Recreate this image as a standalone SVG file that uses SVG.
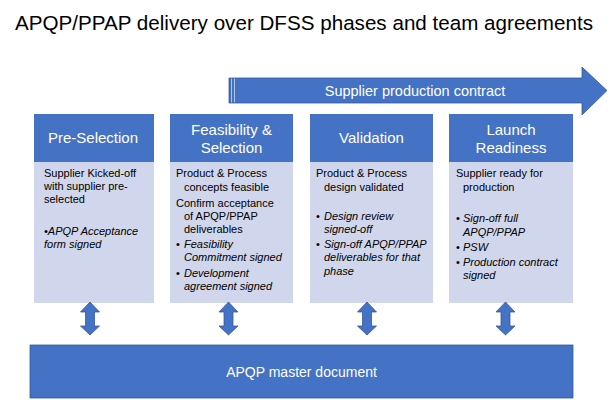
<svg xmlns="http://www.w3.org/2000/svg" width="616" height="400" viewBox="0 0 616 400">
<style>
text{font-family:"Liberation Sans",Arial,sans-serif}
.title{font-size:20.5px;fill:#000}
.hdr{fill:#4472C4}
.body{fill:#D0D6EB}
.ht{font-size:15px;fill:#fff;text-anchor:middle}
.bt{font-size:11px;fill:#000}
.it{font-style:italic}
.blue{fill:#4472C4;stroke:#2F5597;stroke-width:0.75}
.wt{fill:#fff;text-anchor:middle}
</style>
<rect width="616" height="400" fill="#fff"/>
<text class="title" x="15" y="30" textLength="578" lengthAdjust="spacingAndGlyphs">APQP/PPAP delivery over DFSS phases and team agreements</text>

<g id="contract-arrow">
<path class="blue" d="M229,78 L582,78 L582,67 L607,90.5 L582,115 L582,103 L229,103 Z"/>
<line x1="231.5" y1="78.5" x2="231.5" y2="102.5" stroke="#D0D8EE" stroke-width="0.8"/>
<line x1="234.5" y1="78.5" x2="234.5" y2="102.5" stroke="#D0D8EE" stroke-width="0.8"/>
<text class="wt" x="415" y="96" font-size="14.5">Supplier production contract</text>
</g>

<g id="pre-selection">
<rect class="hdr" x="34" y="114" width="120" height="48"/>
<rect class="body" x="34" y="162" width="120" height="141"/>
<text class="ht" x="93" y="143">Pre-Selection</text>
<text class="bt" x="44" y="177">Supplier Kicked-off</text>
<text class="bt" x="44" y="190">with supplier pre-</text>
<text class="bt" x="44" y="203">selected</text>
<text class="bt it" x="44" y="235">•APQP Acceptance</text>
<text class="bt it" x="44" y="248">form signed</text>
</g>

<g id="feasibility">
<rect class="hdr" x="170" y="114" width="123" height="48"/>
<rect class="body" x="170" y="162" width="123" height="141"/>
<text class="ht" x="231.5" y="135">Feasibility &amp;</text>
<text class="ht" x="231.5" y="153">Selection</text>
<text class="bt" x="176" y="177">Product &amp; Process</text>
<text class="bt" x="184" y="191">concepts feasible</text>
<text class="bt" x="176" y="207">Confirm acceptance</text>
<text class="bt" x="184" y="220">of APQP/PPAP</text>
<text class="bt" x="184" y="233">deliverables</text>
<text class="bt" x="176" y="248">•</text>
<text class="bt it" x="184" y="248">Feasibility</text>
<text class="bt it" x="184" y="261">Commitment signed</text>
<text class="bt" x="176" y="277">•</text>
<text class="bt it" x="184" y="277">Development</text>
<text class="bt it" x="184" y="290">agreement signed</text>
</g>

<g id="validation">
<rect class="hdr" x="310" y="114" width="123" height="48"/>
<rect class="body" x="310" y="162" width="123" height="141"/>
<text class="ht" x="371.5" y="143">Validation</text>
<text class="bt" x="316" y="177">Product &amp; Process</text>
<text class="bt" x="324" y="191">design validated</text>
<text class="bt" x="316" y="220">•</text>
<text class="bt it" x="324" y="220">Design review</text>
<text class="bt it" x="324" y="233">signed-off</text>
<text class="bt" x="316" y="248">•</text>
<text class="bt it" x="324" y="248">Sign-off APQP/PPAP</text>
<text class="bt it" x="324" y="261">deliverables for that</text>
<text class="bt it" x="324" y="275">phase</text>
</g>

<g id="launch">
<rect class="hdr" x="449" y="114" width="124" height="48"/>
<rect class="body" x="449" y="162" width="124" height="141"/>
<text class="ht" x="511" y="135">Launch</text>
<text class="ht" x="511" y="153">Readiness</text>
<text class="bt" x="456" y="177">Supplier ready for</text>
<text class="bt" x="463" y="191">production</text>
<text class="bt" x="456" y="222">•</text>
<text class="bt it" x="463" y="222">Sign-off full</text>
<text class="bt it" x="463" y="236">APQP/PPAP</text>
<text class="bt" x="456" y="251">•</text>
<text class="bt it" x="463" y="251">PSW</text>
<text class="bt" x="456" y="266">•</text>
<text class="bt it" x="463" y="266">Production contract</text>
<text class="bt it" x="463" y="279">signed</text>
</g>

<g id="master-document">
<rect class="blue" x="30" y="345" width="543" height="53"/>
<text class="wt" x="301.5" y="377" font-size="14">APQP master document</text>
</g>

<g id="connectors">
<path class="blue" d="M90,302 L99.5,312 L94.5,312 L94.5,326 L99.5,326 L90,335 L80.5,326 L85.5,326 L85.5,312 L80.5,312 Z"/>
<path class="blue" d="M228.5,302 L238,312 L233,312 L233,326 L238,326 L228.5,335 L219,326 L224,326 L224,312 L219,312 Z"/>
<path class="blue" d="M367,302 L376.5,312 L371.5,312 L371.5,326 L376.5,326 L367,335 L357.5,326 L362.5,326 L362.5,312 L357.5,312 Z"/>
<path class="blue" d="M505.5,302 L515,312 L510,312 L510,326 L515,326 L505.5,335 L496,326 L501,326 L501,312 L496,312 Z"/>
</g>
</svg>
